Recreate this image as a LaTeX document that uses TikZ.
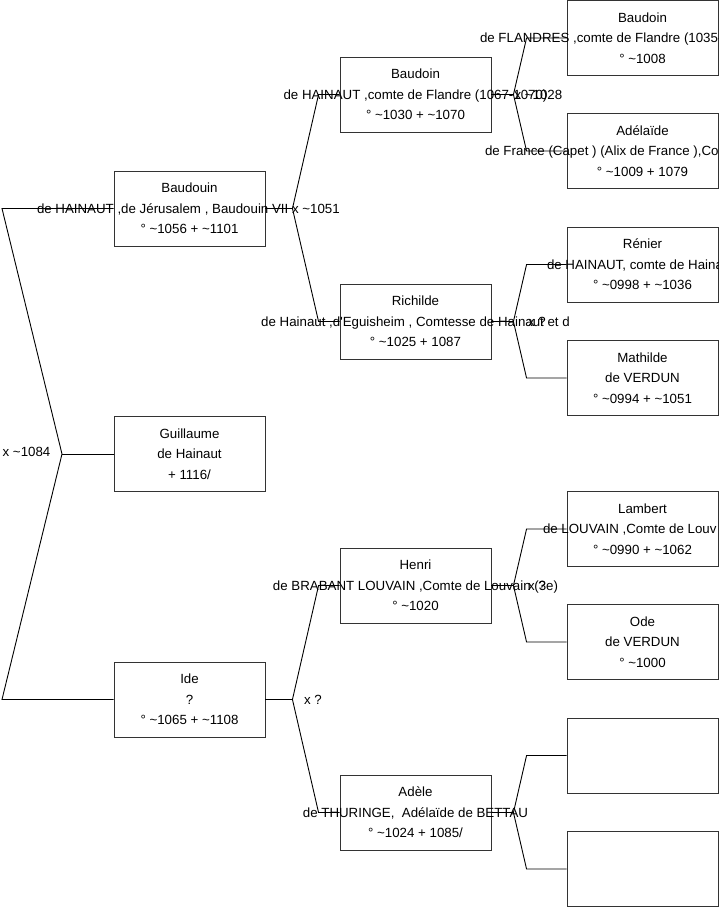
\documentclass[tikz,border=0pt]{standalone}
\usepackage{fontspec}
\setmainfont{Liberation Sans}
\usetikzlibrary{calc}

\newcommand{\ca}{\textasciitilde}
\newcommand{\wide}[1]{\makebox[0pt]{#1}}
\newcommand{\wideat}[2]{\makebox[0pt][l]{\hspace*{#1}#2}}

\begin{document}
\begin{tikzpicture}[x=1pt, y=-1pt,
  every node/.style={font=\fontsize{13.3}{20.5}\selectfont},
  person/.style={draw=black!80, line width=0.9pt, minimum width=151pt,
    minimum height=75pt, inner sep=0pt, align=center},
  union/.style={inner sep=0pt},
  link/.style={draw=black, line width=0.9pt}]
  \useasboundingbox (0,0) rectangle (719,908);

  % Define nodes
  \node[person] (bdn) at (189.5,208.5) {Baudouin\\\wideat{-152.5pt}{de HAINAUT ,de Jérusalem , Baudouin VII}\\° \ca1056 + \ca1101};
  \node[person] (gui) at (189.5,454) {Guillaume\\de Hainaut\\+ 1116/};
  \node[person] (ide) at (189.5,699.5) {Ide\\?\\° \ca1065 + \ca1108};

  \node[person] (bdf) at (415.5,94.5) {Baudoin\\\wide{de HAINAUT ,comte de Flandre (1067-1070)}\\° \ca1030 + \ca1070};
  \node[person] (ric) at (415.5,321.5) {Richilde\\\wide{de Hainaut ,d\textquotesingle Eguisheim , Comtesse de Hainaut et d}\\° \ca1025 + 1087};
  \node[person] (hen) at (415.5,585.5) {Henri\\\wide{de BRABANT LOUVAIN ,Comte de Louvain (3e)}\\° \ca1020};
  \node[person] (ade) at (415.5,812.5) {Adèle\\\wide{de THURINGE,\ \ Adélaïde de BETTAU}\\° \ca1024 + 1085/};

  \node[person] (bfl) at (642.5,38) {Baudoin\\\wideat{-162.5pt}{de FLANDRES ,comte de Flandre (1035-}\\° \ca1008};
  \node[person] (adl) at (642.5,151) {Adélaïde\\\wideat{-157.5pt}{de France (Capet ) (Alix de France ),Co}\\° \ca1009 + 1079};
  \node[person] (ren) at (642.5,264.5) {Rénier\\\wideat{-95.5pt}{de HAINAUT, comte de Haina}\\° \ca0998 + \ca1036};
  \node[person] (mat) at (642.5,378) {Mathilde\\de VERDUN\\° \ca0994 + \ca1051};
  \node[person] (lam) at (642.5,529) {Lambert\\\wideat{-99.5pt}{de LOUVAIN ,Comte de Louv}\\° \ca0990 + \ca1062};
  \node[person] (ode) at (642.5,642) {Ode\\de VERDUN\\° \ca1000};
  \node[person] (em1) at (642.5,755.5) {};
  \node[person] (em2) at (642.5,869) {};

  % Draw links
  \coordinate (r0) at (62,454);
  \coordinate (r1) at (2,208.5);
  \coordinate (r2) at (2,699.5);
  \draw[link] (bdn.west) -- (r1) -- (r0) -- (r2) -- (ide.west);
  \draw[link] (r0) -- (gui.west);

  \foreach \p/\a/\b/\s/\e in {bdn/bdf/ric/27/21, ide/hen/ade/27/21,
      bdf/bfl/adl/22/40, ric/ren/mat/22/40, hen/lam/ode/22/40, ade/em1/em2/22/40} {
    \draw[link] (\a.west) -- ++(-\e,0) -- ($(\p.east)+(\s,0)$) coordinate (f\p)
      -- ($(\b.west)+(-\e,0)$) -- (\b.west);
    \draw[link] (\p.east) -- (f\p);
  }

  % Marriages
  \node[union] (m0) at (26.5,452) {x \ca1084};
  \node[union] (m1) at ($(fbdn)+(23.5,0)$) {x \ca1051};
  \node[union] (m2) at ($(fide)+(20.5,0)$) {x ?};
  \node[union] (m3) at ($(fbdf)+(25,0)$) {x \ca1028};
  \node[union] (m4) at ($(fric)+(23.5,0)$) {x ?};
  \node[union] (m5) at ($(fhen)+(23.5,0)$) {x ?};
\end{tikzpicture}
\end{document}
